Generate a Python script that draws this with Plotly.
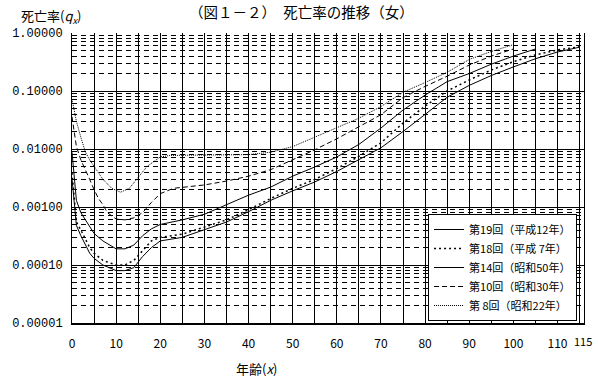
import plotly.graph_objects as go

# ---- data ----
ages_8 = [0, 1, 2, 3, 4, 5, 7, 9, 11, 13, 15, 17, 20, 22, 25, 30, 35, 40, 45, 50, 55, 60, 65, 70, 75, 80, 85, 90, 95, 100]
q_8 = [0.072, 0.03, 0.016, 0.009, 0.0065, 0.005, 0.003, 0.0021, 0.0018, 0.0021, 0.0033, 0.005, 0.0073, 0.0077,
       0.0078, 0.0078, 0.0078, 0.008, 0.0088, 0.011, 0.016, 0.023, 0.034, 0.054, 0.095, 0.14, 0.21, 0.35, 0.48, 0.63]

ages_10 = [0, 1, 2, 3, 4, 5, 6, 7, 8, 10, 12, 14, 16, 18, 20, 23, 26, 30, 35, 40, 45, 50, 55, 60, 65, 70, 75, 80, 85, 90, 95, 100]
q_10 = [0.036, 0.011, 0.0065, 0.0045, 0.003, 0.002, 0.0014, 0.0011, 0.0008, 0.00062, 0.0006, 0.00065, 0.0008, 0.0012,
        0.0017, 0.0021, 0.0022, 0.0024, 0.0028, 0.0034, 0.0044, 0.0065, 0.0097, 0.015, 0.024, 0.039, 0.077, 0.12,
        0.18, 0.28, 0.40, 0.53]

ages_14 = [0, 1, 2, 3, 4, 5, 7, 10, 12, 14, 16, 18, 20, 25, 30, 35, 40, 45, 50, 55, 60, 65, 70, 75, 80, 85, 90, 95, 100, 105]
q_14 = [0.0088, 0.0013, 0.0008, 0.0006, 0.00045, 0.00035, 0.00026, 0.00019, 0.00019, 0.00022, 0.00032, 0.00042,
        0.0005, 0.0006, 0.00075, 0.0011, 0.0016, 0.0022, 0.0034, 0.0049, 0.0073, 0.012, 0.023, 0.047, 0.085, 0.145,
        0.2, 0.29, 0.4, 0.53]

ages_18 = [0, 1, 2, 3, 4, 5, 7, 10, 12, 14, 16, 18, 20, 25, 30, 35, 40, 45, 50, 55, 60, 65, 70, 75, 80, 85, 90, 95, 100, 105, 110, 115]
q_18 = [0.0039, 0.00055, 0.0004, 0.00028, 0.0002, 0.00016, 0.00012, 0.0001, 0.0001, 0.00012, 0.00018, 0.00026,
        0.0003, 0.00034, 0.00045, 0.0006, 0.0009, 0.0014, 0.0021, 0.003, 0.0046, 0.0075, 0.0128, 0.028, 0.055, 0.1,
        0.155, 0.23, 0.32, 0.42, 0.51, 0.58]

ages_19 = [0, 1, 2, 3, 4, 5, 7, 10, 12, 14, 16, 18, 20, 25, 30, 35, 40, 45, 50, 55, 60, 65, 70, 75, 80, 85, 90, 95, 100, 105, 110, 115]
q_19 = [0.0031, 0.00048, 0.00032, 0.00022, 0.00016, 0.00013, 0.0001, 0.00008, 0.00008, 0.00009, 0.00014, 0.0002,
        0.00026, 0.0003, 0.0004, 0.00055, 0.00083, 0.0013, 0.0019, 0.0027, 0.0041, 0.0065, 0.0105, 0.02, 0.04,
        0.078, 0.125, 0.185, 0.26, 0.36, 0.47, 0.57]

series_names = ["第19回（平成12年）", "第18回（平成 7年）", "第14回（昭和50年）", "第10回（昭和30年）", "第 8回（昭和22年）"]

x_tick_vals = list(range(0, 116, 5))
x_tick_text = [str(v) if v % 10 == 0 else "" for v in x_tick_vals]
x_last_label = "115"
y_tick_vals = [1, 0.1, 0.01, 0.001, 0.0001, 0.00001]
y_tick_text = ["1.00000", "0.10000", "0.01000", "0.00100", "0.00010", "0.00001"]

title_text = "（図１－２）　死亡率の推移（女）"
ytitle_text = "死亡率(<i>q</i><sub><i>x</i></sub>)"
xtitle_text = "年齢(<i>x</i>)"

# ---- figure ----
CJK = "Noto Sans CJK JP"
fig = go.Figure()
styles = [
    dict(dash="solid", width=1),
    dict(dash="2px,3px", width=1.5),
    dict(dash="solid", width=1),
    dict(dash="5px,3px", width=1),
    dict(dash="1px,1px", width=1),
]
data = [(ages_19, q_19), (ages_18, q_18), (ages_14, q_14), (ages_10, q_10), (ages_8, q_8)]
for (a, q), name, st in zip(data, series_names, styles):
    fig.add_trace(go.Scatter(x=a, y=q, mode="lines", name=name,
                             line=dict(color="black", **st)))

minor_vals = [m * 10 ** e for e in range(-5, 0) for m in range(2, 10)]

PL, PR, PT, PB = 62, 584, 33, 323
W, H = 598, 381

fig.update_layout(
    width=W, height=H,
    margin=dict(l=PL, r=W - PR, t=PT, b=H - PB),
    paper_bgcolor="white", plot_bgcolor="white",
    font=dict(family=CJK, color="black", size=12),
    showlegend=True,
    legend=dict(x=(425 - PL) / (PR - PL), y=(PB - 321) / (PB - PT), xanchor="left", yanchor="bottom",
                bordercolor="black", borderwidth=1, bgcolor="white",
                font=dict(family=CJK, size=11), tracegroupgap=0,
                itemwidth=30),
    xaxis=dict(range=[0, 116], tickmode="array", tickvals=x_tick_vals, ticktext=x_tick_text,
               showgrid=True, gridcolor="black", gridwidth=1, zeroline=False,
               showline=True, linecolor="black", linewidth=2, mirror=False,
               ticks="", ticklabelstandoff=9,
               tickfont=dict(family=CJK, size=12)),
    yaxis=dict(type="log", range=[-5, 0], tickmode="array", tickvals=y_tick_vals, ticktext=y_tick_text,
               showgrid=True, gridcolor="black", gridwidth=1, zeroline=False,
               showline=True, linecolor="black", linewidth=1, mirror=True,
               ticks="", ticklabelstandoff=6,
               tickfont=dict(family="Liberation Mono", size=12),
               minor=dict(tickvals=minor_vals, showgrid=True, gridcolor="black", gridwidth=1,
                          griddash="5px,4px")),
)

def px_x(px):
    return (px - PL) / (PR - PL)

def px_y(py):
    return (PB - py) / (PB - PT)

fig.add_annotation(text=title_text, xref="paper", yref="paper", x=px_x(296), y=px_y(12),
                   xanchor="center", yanchor="middle", showarrow=False, font=dict(family=CJK, size=14.5))
fig.add_annotation(text=ytitle_text, xref="paper", yref="paper", x=px_x(8), y=px_y(17),
                   xanchor="left", yanchor="middle", showarrow=False, font=dict(family=CJK, size=13))
fig.add_annotation(text=xtitle_text, xref="paper", yref="paper", x=px_x(250), y=px_y(368),
                   xanchor="center", yanchor="middle", showarrow=False, font=dict(family=CJK, size=13))
fig.add_annotation(text=x_last_label, xref="paper", yref="paper", x=px_x(583), y=px_y(341),
                   xanchor="center", yanchor="middle", showarrow=False,
                   font=dict(family=CJK, size=11))

fig.write_html("out.html")
